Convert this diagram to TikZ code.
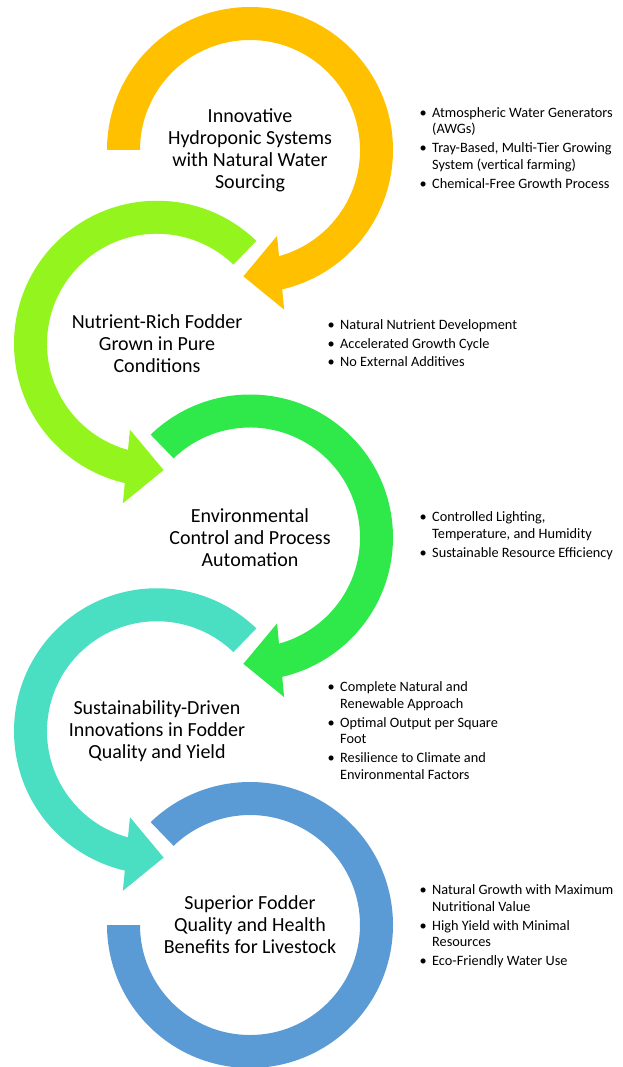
\documentclass[tikz,border=0pt]{standalone}
\usepackage{fontspec}
\setmainfont{Carlito}
\usepackage{tikz}
\usetikzlibrary{calc,positioning}

\definecolor{ringgold}{HTML}{FFC000}
\definecolor{ringlime}{HTML}{94F51E}
\definecolor{ringgreen}{HTML}{2FE94B}
\definecolor{ringteal}{HTML}{4ADFC2}
\definecolor{ringblue}{HTML}{5B9BD5}

% bullet with a fixed gap before the item text
\newcommand{\bitem}{\makebox[12.5pt][l]{\textbullet}}

\begin{document}
\begin{tikzpicture}[
  x=1pt,y=1pt,
  stagetext/.style={align=center,inner sep=0pt,
                    font=\fontsize{20}{22}\selectfont},
  notes/.style={anchor=base west,inner sep=0pt,
                font=\fontsize{14.3}{16.5}\selectfont}
]
\useasboundingbox (0,0) rectangle (622,-1067);

\coordinate (c1) at (250,-150);
\coordinate (c2) at (157,-343.75);
\coordinate (c3) at (250,-537.5);
\coordinate (c4) at (157,-731.25);
\coordinate (c5) at (250,-925);

% head base (b) and tip (t) on the middle of each band
\coordinate (b1) at ($(c1)+(-76:126.5)$);
\coordinate (t1) at ($(c1)+(-93:126.5)$);
\coordinate (b2) at ($(c2)+(256:126.5)$);
\coordinate (t2) at ($(c2)+(273:126.5)$);
\coordinate (b3) at ($(c3)+(-76:126.5)$);
\coordinate (t3) at ($(c3)+(-93:126.5)$);
\coordinate (b4) at ($(c4)+(256:126.5)$);
\coordinate (t4) at ($(c4)+(273:126.5)$);

% bands
\fill[ringgold] ($(c1)+(180:143)$) arc[start angle=180,end angle=-79,radius=143]
  -- ($(c1)+(-79:110)$) arc[start angle=-79,end angle=180,radius=110] -- cycle;
\fill[ringlime] ($(c2)+(46:143)$) arc[start angle=46,end angle=259,radius=143]
  -- ($(c2)+(259:110)$) arc[start angle=259,end angle=46,radius=110] -- cycle;
\fill[ringgreen] ($(c3)+(134:143)$) arc[start angle=134,end angle=-79,radius=143]
  -- ($(c3)+(-79:110)$) arc[start angle=-79,end angle=134,radius=110] -- cycle;
\fill[ringteal] ($(c4)+(46:143)$) arc[start angle=46,end angle=259,radius=143]
  -- ($(c4)+(259:110)$) arc[start angle=259,end angle=46,radius=110] -- cycle;
\fill[ringblue] ($(c5)+(134:143)$) arc[start angle=134,end angle=-180,radius=143]
  -- ($(c5)+(180:110)$) arc[start angle=-180,end angle=134,radius=110] -- cycle;

% arrow heads
\fill[ringgold]  ($(b1)!37pt!90:(t1)$) -- (t1) -- ($(b1)!37pt!-90:(t1)$) -- cycle;
\fill[ringlime]  ($(b2)!37pt!90:(t2)$) -- (t2) -- ($(b2)!37pt!-90:(t2)$) -- cycle;
\fill[ringgreen] ($(b3)!37pt!90:(t3)$) -- (t3) -- ($(b3)!37pt!-90:(t3)$) -- cycle;
\fill[ringteal]  ($(b4)!37pt!90:(t4)$) -- (t4) -- ($(b4)!37pt!-90:(t4)$) -- cycle;

\node[stagetext] (S1) at (c1) {Innovative\\Hydroponic Systems\\with Natural Water\\Sourcing};
\node[stagetext] (S2) at (c2) {Nutrient-Rich Fodder\\Grown in Pure\\Conditions};
\node[stagetext] (S3) at (c3) {Environmental\\Control and Process\\Automation};
\node[stagetext] (S4) at (c4) {Sustainability-Driven\\Innovations in Fodder\\Quality and Yield};
\node[stagetext] (S5) at (c5) {Superior Fodder\\Quality and Health\\Benefits for Livestock};

\node[notes] (N1) at (419.5,-117.5) {\begin{tabular}[t]{@{}l@{}l@{}}
  \bitem & Atmospheric Water Generators\\
         & (AWGs)\\[2.5pt]
  \bitem & Tray-Based, Multi-Tier Growing\\
         & System (vertical farming)\\[2.5pt]
  \bitem & Chemical-Free Growth Process
\end{tabular}};
\node[notes] (N2) at (327.5,-329.5) {\begin{tabular}[t]{@{}l@{}l@{}}
  \bitem & Natural Nutrient Development\\[2pt]
  \bitem & Accelerated Growth Cycle\\[2pt]
  \bitem & No External Additives
\end{tabular}};
\node[notes] (N3) at (419.5,-521.5) {\begin{tabular}[t]{@{}l@{}l@{}}
  \bitem & Controlled Lighting,\\
         & Temperature, and Humidity\\[2.5pt]
  \bitem & Sustainable Resource Efficiency
\end{tabular}};
\node[notes] (N4) at (327.5,-691.5) {\begin{tabular}[t]{@{}l@{}l@{}}
  \bitem & Complete Natural and\\
         & Renewable Approach\\[2.5pt]
  \bitem & Optimal Output per Square\\
         & Foot\\[2.5pt]
  \bitem & Resilience to Climate and\\
         & Environmental Factors
\end{tabular}};
\node[notes] (N5) at (419.5,-894.5) {\begin{tabular}[t]{@{}l@{}l@{}}
  \bitem & Natural Growth with Maximum\\
         & Nutritional Value\\[2.5pt]
  \bitem & High Yield with Minimal\\
         & Resources\\[2.5pt]
  \bitem & Eco-Friendly Water Use
\end{tabular}};
\end{tikzpicture}
\end{document}
